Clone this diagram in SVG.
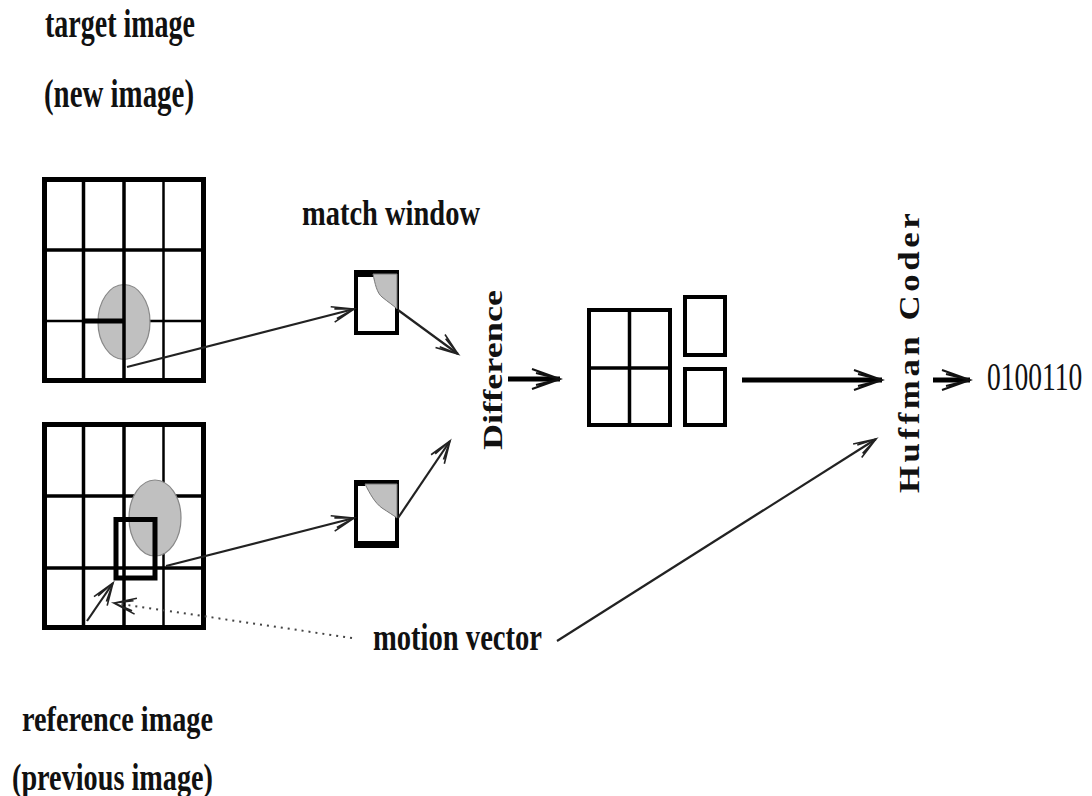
<svg xmlns="http://www.w3.org/2000/svg" width="1092" height="796" viewBox="0 0 1092 796">
<style>
.t{font-family:"Liberation Serif","Times New Roman",serif;font-weight:bold;fill:#111}
.n{font-family:"Liberation Serif","Times New Roman",serif;fill:#111}
.box{fill:#fff;stroke:#000;stroke-width:5}
.g3{stroke:#000;stroke-width:3.5;fill:none}
.g2{stroke:#000;stroke-width:2.5;fill:none}
.blob{fill:#c0c0c0;stroke:#888;stroke-width:1.2}
.win{fill:#fff;stroke:#000;stroke-width:4}
.blk{fill:#fff;stroke:#000;stroke-width:4}
.thin{stroke:#222;stroke-width:2.2;fill:none}
.thick{stroke:#000;stroke-width:5;fill:none}
</style>
<defs>
<marker id="ah" markerUnits="userSpaceOnUse" markerWidth="32" markerHeight="24" refX="28" refY="10" orient="auto" overflow="visible">
<path d="M0,0 L28,10 L0,20 M4,4 L28,10 L4,16" fill="none" stroke="#111" stroke-width="2"/>
</marker>
<marker id="as" markerUnits="userSpaceOnUse" markerWidth="26" markerHeight="20" refX="22" refY="8" orient="auto" overflow="visible">
<path d="M0,0 L22,8 L0,16 M3,3 L22,8 L3,13" fill="none" stroke="#222" stroke-width="1.6"/>
</marker>
</defs>

<g id="labels">
<text class="t" x="45" y="37" font-size="40" textLength="150" lengthAdjust="spacingAndGlyphs">target image</text>
<text class="t" x="44" y="107" font-size="40" textLength="150" lengthAdjust="spacingAndGlyphs">(new image)</text>
<text class="t" x="22" y="731" font-size="35" textLength="191" lengthAdjust="spacingAndGlyphs">reference image</text>
<text class="t" x="12" y="790" font-size="37" textLength="201" lengthAdjust="spacingAndGlyphs">(previous image)</text>
<text class="t" x="302" y="225" font-size="35" textLength="178" lengthAdjust="spacingAndGlyphs">match window</text>
</g>

<g id="target-image">
<rect class="box" x="44.5" y="179.5" width="159" height="201"/>
<line class="g3" x1="83.5" y1="180" x2="83.5" y2="380"/>
<line class="g2" x1="163.5" y1="180" x2="163.5" y2="380"/>
<line class="g3" x1="45" y1="250" x2="203" y2="250"/>
<line class="g2" x1="45" y1="321" x2="203" y2="321"/>
<ellipse class="blob" cx="124" cy="322" rx="26" ry="37.5"/>
<line class="g3" x1="124" y1="180" x2="124" y2="380"/>
<line stroke="#000" stroke-width="5" x1="84" y1="321" x2="125" y2="321"/>
</g>

<g id="reference-image">
<rect class="box" x="44.5" y="424.5" width="159" height="203"/>
<line class="g3" x1="83.5" y1="425" x2="83.5" y2="627"/>
<line class="g2" x1="163.5" y1="425" x2="163.5" y2="627"/>
<line class="g3" x1="45" y1="496" x2="203" y2="496"/>
<line class="g3" x1="45" y1="568" x2="203" y2="568"/>
<line class="g3" x1="124" y1="425" x2="124" y2="627"/>
<ellipse class="blob" cx="155" cy="518" rx="26" ry="38"/>
<rect fill="none" stroke="#000" stroke-width="5" x="116" y="519.5" width="39" height="58.5"/>
</g>

<g id="match-window-top">
<rect class="win" x="356" y="272" width="41" height="61"/>
<rect fill="#000" x="354" y="270" width="20" height="7"/>
<path d="M373,274 C375,284 377,293 382,297 C388,302 393,305 397,309 L397,274 Z" fill="#c0c0c0" stroke="#777" stroke-width="1"/>
</g>

<g id="match-window-bottom">
<rect class="win" x="356" y="482" width="41" height="64"/>
<rect fill="#000" x="354" y="541" width="45" height="7"/>
<rect fill="#000" x="354" y="480" width="11" height="6"/>
<path d="M365,484 C370,494 375,503 382,508 C388,512 393,515 397,518 L397,484 Z" fill="#c0c0c0" stroke="#777" stroke-width="1"/>
</g>

<g id="difference">
<text class="t" transform="translate(502,450) rotate(-90)" font-size="28" textLength="160" lengthAdjust="spacingAndGlyphs">Difference</text>
</g>

<g id="blocks">
<rect class="blk" x="589" y="310" width="81" height="115"/>
<line class="g3" x1="629.5" y1="310" x2="629.5" y2="425"/>
<line class="g3" x1="589" y1="368" x2="670" y2="368"/>
<rect class="blk" x="685" y="297" width="40" height="58"/>
<rect class="blk" x="685" y="369" width="40" height="56"/>
</g>

<g id="huffman-coder">
<text class="t" transform="translate(919,493) rotate(-90) scale(1.2,1)" font-size="29" textLength="233" lengthAdjust="spacing">Huffman Coder</text>
</g>

<g id="output">
<text class="n" transform="translate(987,390) scale(1,1.43)" x="0" y="0" font-size="27.5">0100110</text>
</g>

<g id="motion-vector">
<text class="t" x="373" y="650" font-size="37" textLength="169" lengthAdjust="spacingAndGlyphs">motion vector</text>
</g>

<g id="connectors">
<line class="thin" x1="127" y1="367" x2="354" y2="309" marker-end="url(#as)"/>
<line class="thin" x1="166" y1="566" x2="354" y2="518" marker-end="url(#as)"/>
<line class="thin" x1="398" y1="310" x2="458" y2="354" marker-end="url(#as)"/>
<line class="thin" x1="398" y1="518" x2="450" y2="441" marker-end="url(#as)"/>
<line class="thick" x1="508" y1="379" x2="560" y2="379" stroke-width="4.5" marker-end="url(#ah)"/>
<line class="thick" x1="742" y1="380" x2="882" y2="380" marker-end="url(#ah)"/>
<line class="thick" x1="933" y1="380" x2="970" y2="380" stroke-width="4.5" marker-end="url(#ah)"/>
<line class="thin" x1="557" y1="641" x2="876" y2="439" marker-end="url(#as)"/>
<line class="thin" x1="87" y1="621" x2="113" y2="583" marker-end="url(#as)"/>
<line stroke="#444" stroke-width="2" stroke-dasharray="2,5" x1="352" y1="638" x2="114" y2="603" marker-end="url(#as)"/>
</g>
</svg>
